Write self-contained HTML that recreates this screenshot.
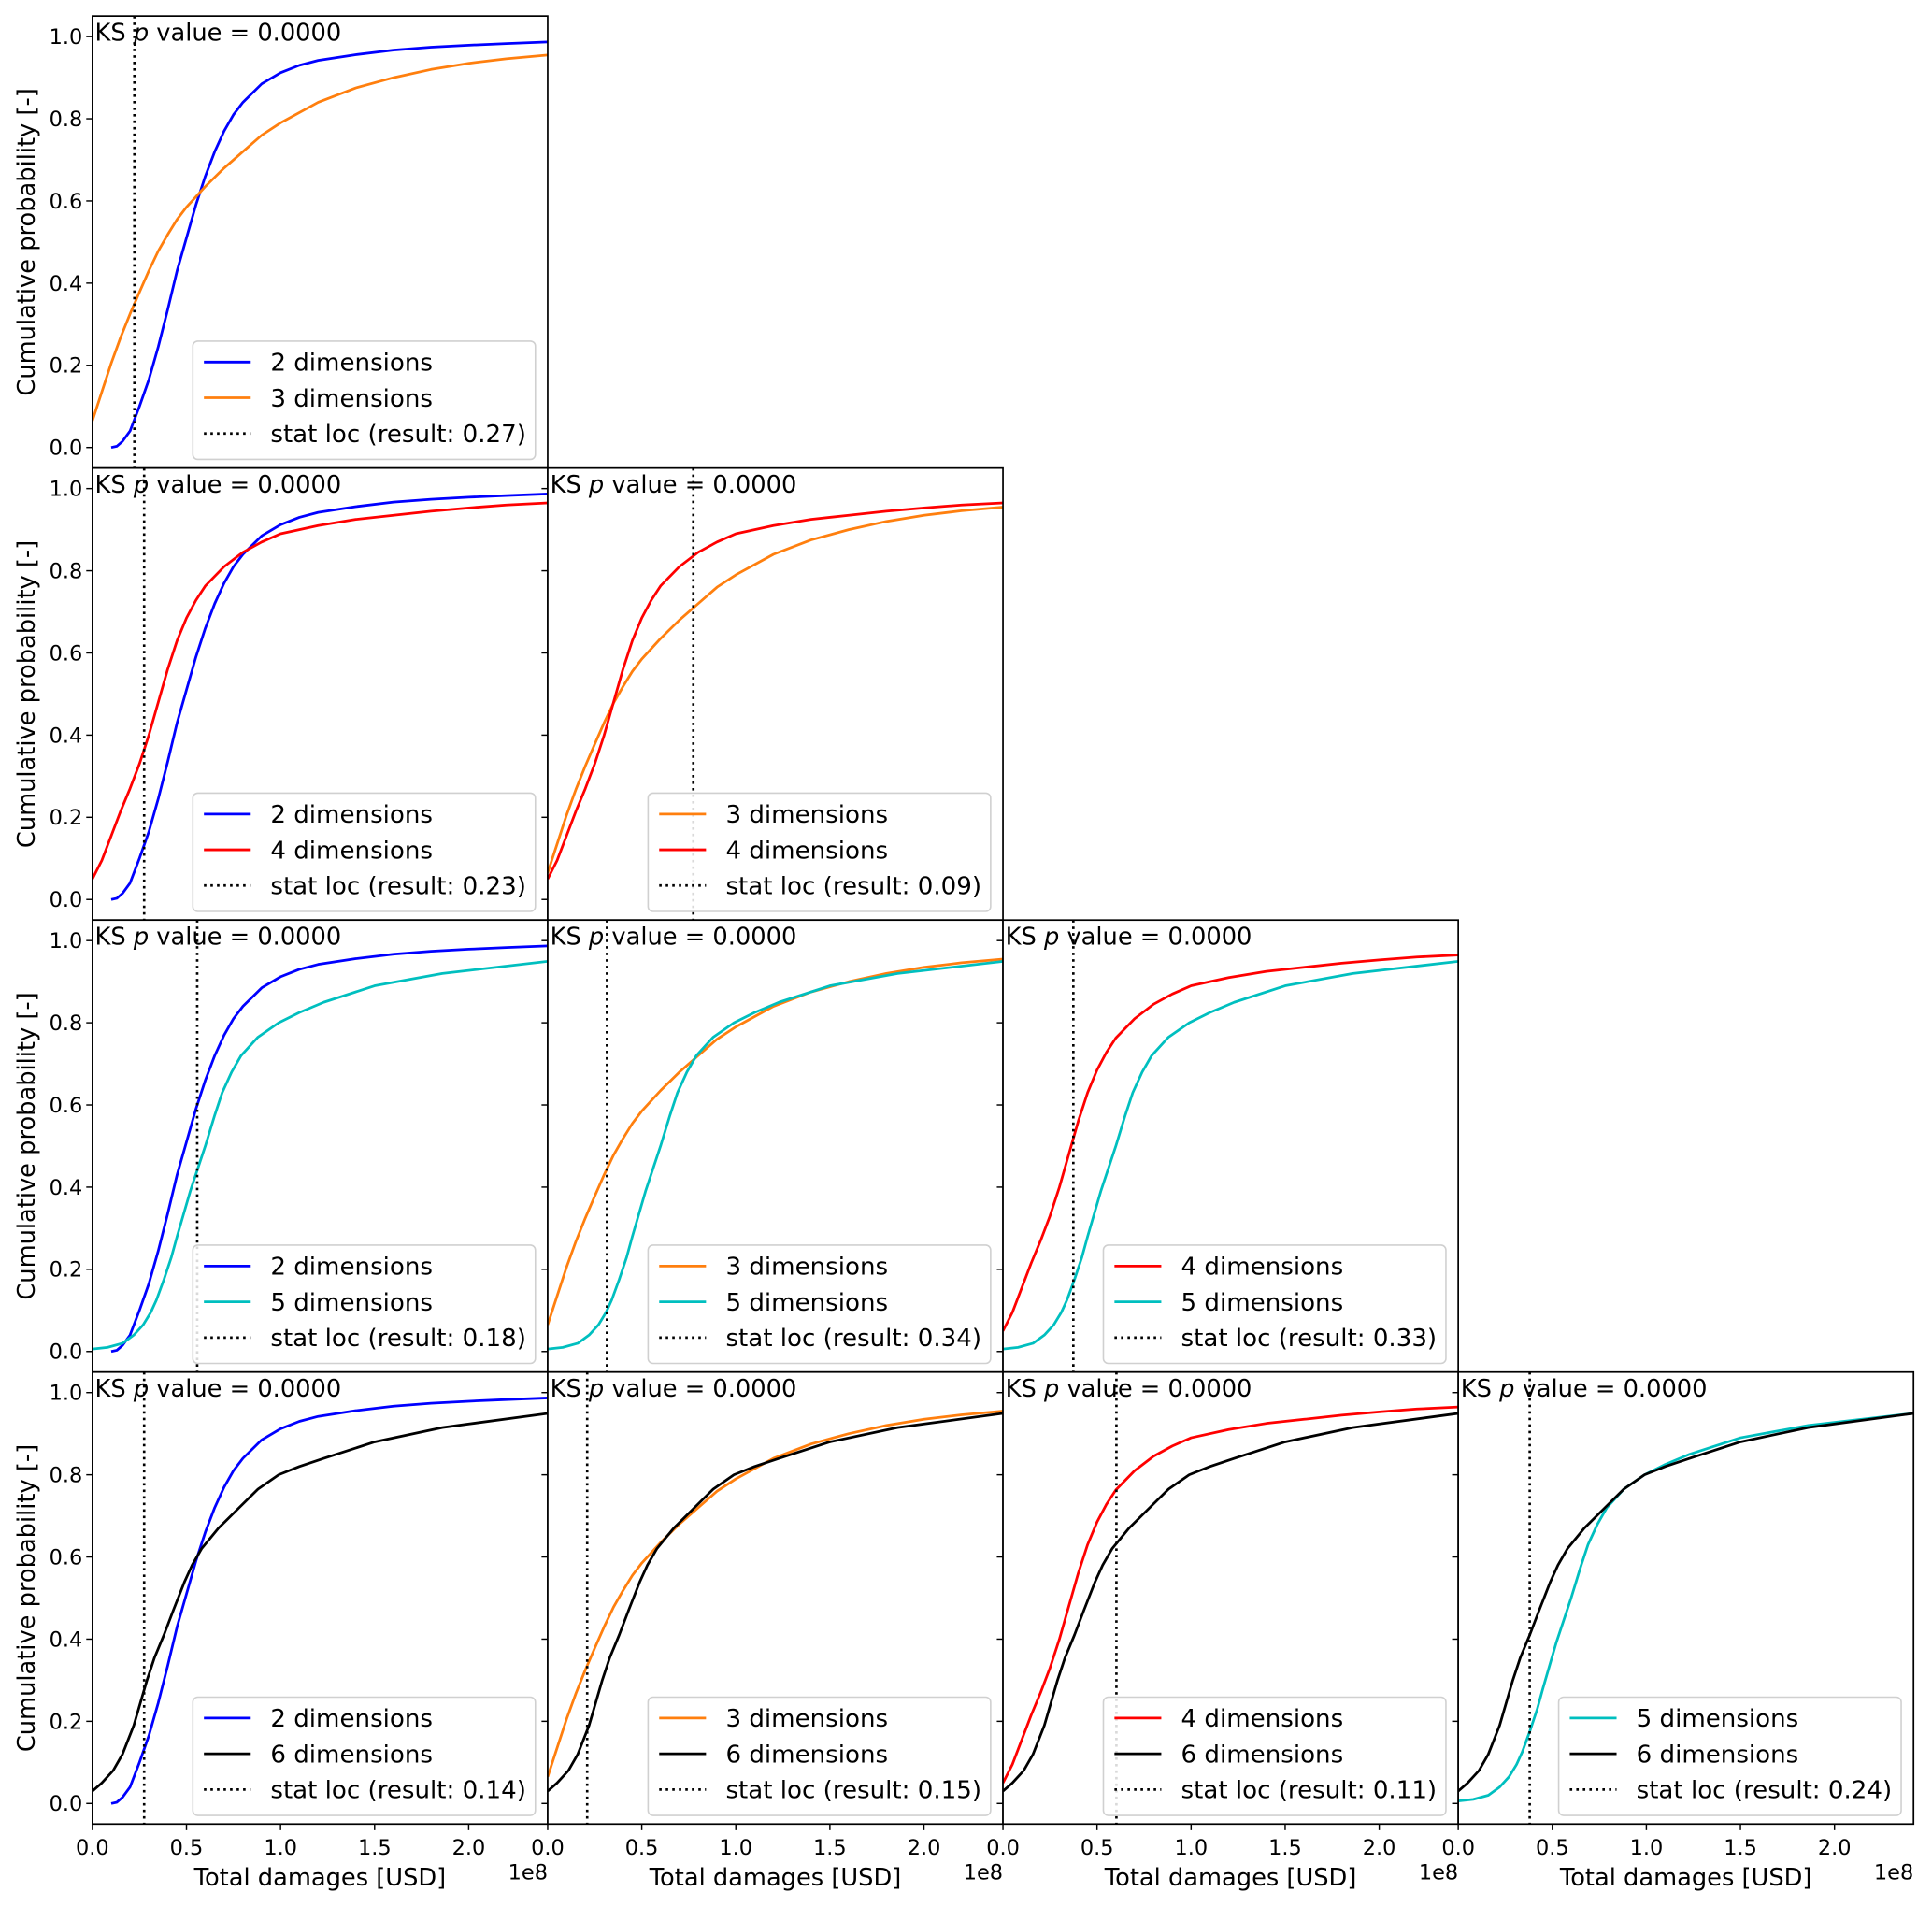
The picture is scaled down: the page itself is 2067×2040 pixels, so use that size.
<!DOCTYPE html>
<html><head><meta charset="utf-8"><style>
html,body{margin:0;padding:0;background:#fff}
svg{display:block}
text{font-family:"DejaVu Sans","Liberation Sans",sans-serif;fill:#000}
</style></head><body>
<svg id="fig" width="2067" height="2040" viewBox="0 0 1568 1547.5" xmlns="http://www.w3.org/2000/svg"></svg>
<script>
// ---- data (x in units of 1e8 USD, y cumulative probability) ----
const dimsX2 = [0.10,0.13,0.16,0.2,0.25,0.3,0.35,0.4,0.45,0.5,0.55,0.6,0.65,0.7,0.75,0.8,0.9,1.0,1.1,1.2,1.4,1.6,1.8,2.0,2.2,2.42];
const dimsY2 = [0,0.003,0.015,0.04,0.1,0.165,0.245,0.335,0.43,0.51,0.59,0.66,0.72,0.77,0.81,0.84,0.885,0.912,0.93,0.942,0.956,0.967,0.974,0.979,0.983,0.987];
const dimsX3 = [0,0.05,0.1,0.15,0.2,0.25,0.3,0.35,0.4,0.45,0.5,0.55,0.6,0.7,0.8,0.9,1.0,1.2,1.4,1.6,1.8,2.0,2.2,2.42];
const dimsY3 = [0.065,0.135,0.205,0.268,0.325,0.378,0.43,0.478,0.518,0.555,0.585,0.61,0.635,0.68,0.72,0.76,0.79,0.84,0.875,0.9,0.92,0.935,0.946,0.955];
const dimsX4 = [0,0.05,0.1,0.15,0.2,0.25,0.3,0.35,0.4,0.45,0.5,0.55,0.6,0.7,0.8,0.9,1.0,1.2,1.4,1.6,1.8,2.0,2.2,2.42];
const dimsY4 = [0.05,0.095,0.155,0.215,0.27,0.33,0.4,0.48,0.56,0.63,0.685,0.728,0.763,0.81,0.845,0.87,0.89,0.91,0.925,0.935,0.945,0.953,0.96,0.965];
const dimsX5 = [0,0.08,0.16,0.22,0.27,0.31,0.34,0.38,0.42,0.45,0.52,0.6,0.65,0.69,0.74,0.79,0.88,0.99,1.1,1.23,1.5,1.86,2.43];
const dimsY5 = [0.006,0.01,0.02,0.04,0.065,0.095,0.125,0.175,0.23,0.28,0.39,0.5,0.575,0.63,0.68,0.72,0.765,0.80,0.825,0.85,0.89,0.92,0.95];
const dimsX6 = [0,0.05,0.11,0.16,0.22,0.29,0.33,0.38,0.43,0.49,0.53,0.58,0.67,0.78,0.88,0.99,1.1,1.23,1.5,1.86,2.43];
const dimsY6 = [0.03,0.05,0.08,0.12,0.19,0.30,0.355,0.41,0.47,0.54,0.58,0.62,0.67,0.72,0.765,0.80,0.82,0.84,0.88,0.915,0.95];
const panelRows = [0,1,1,2,2,2,3,3,3,3];
const panelCols = [0,0,1,0,1,2,0,1,2,3];
const panelDimA = [2,2,3,2,3,4,2,3,4,5];
const panelDimB = [3,4,4,5,5,5,6,6,6,6];
const statLocs = [0.223,0.275,0.774,0.557,0.315,0.374,0.275,0.21,0.603,0.38];
const statResults = ["0.27","0.23","0.09","0.18","0.34","0.33","0.14","0.15","0.11","0.24"];
const yTicks = [0,0.2,0.4,0.6,0.8,1.0];
const yTickLabels = ["0.0","0.2","0.4","0.6","0.8","1.0"];
const xTicks = [0,0.5,1.0,1.5,2.0];
const xTickLabels = ["0.0","0.5","1.0","1.5","2.0"];

const series = {2:[dimsX2,dimsY2],3:[dimsX3,dimsY3],4:[dimsX4,dimsY4],5:[dimsX5,dimsY5],6:[dimsX6,dimsY6]};
const colors = {2:"#0000ff",3:"#ff7f0e",4:"#ff0000",5:"#00bfbf",6:"#000000"};

// ---- layout ----
const L0=75, PW=369.5, T0=13, PH=366.8, XMAX=2.42, YMIN=-0.05, YMAX=1.05;
const NS="http://www.w3.org/2000/svg";
const fig=document.getElementById('fig');
function mk(tag,attrs,parent){const e=document.createElementNS(NS,tag);for(const k in attrs)e.setAttribute(k,attrs[k]);(parent||fig).appendChild(e);return e;}

const defs=mk('defs',{});
for(let i=0;i<panelRows.length;i++){
  const r=panelRows[i], c=panelCols[i];
  const left=L0+c*PW, top=T0+r*PH;
  const sx=v=>left+v/XMAX*PW;
  const sy=v=>top+(YMAX-v)/(YMAX-YMIN)*PH;
  const cp=mk('clipPath',{id:'clip'+i},defs);
  mk('rect',{x:left,y:top,width:PW,height:PH},cp);
  const g=mk('g',{});
  
  
  mk('rect',{x:left,y:top,width:PW,height:PH,fill:'#fff'},g);
  const pg=mk('g',{'clip-path':'url(#clip'+i+')'},g);
  [panelDimA[i],panelDimB[i]].forEach(d=>{
    const [xs,ys]=series[d];
    const pts=xs.map((x,k)=>sx(x).toFixed(2)+','+sy(ys[k]).toFixed(2)).join(' ');
    const pl=mk('polyline',{points:pts,fill:'none',stroke:colors[d],'stroke-width':2.1,'stroke-linejoin':'round'},pg);
    
    
  });
  const vl=mk('line',{x1:sx(statLocs[i]),x2:sx(statLocs[i]),y1:top,y2:top+PH,stroke:'#000','stroke-width':2,'stroke-dasharray':'2,3.3'},pg);
  
  
  yTicks.forEach((v,k)=>{
    mk('line',{x1:left-5,x2:left,y1:sy(v),y2:sy(v),stroke:'#000','stroke-width':1.1},g);
    if(c===0){const t=mk('text',{x:left-8,y:sy(v)+6,'text-anchor':'end','font-size':17},g);t.textContent=yTickLabels[k];
      }
  });
  if(r===3){
    xTicks.forEach((v,k)=>{
      mk('line',{x1:sx(v),x2:sx(v),y1:top+PH,y2:top+PH+5,stroke:'#000','stroke-width':1.1},g);
      const t=mk('text',{x:sx(v),y:top+PH+25,'text-anchor':'middle','font-size':17},g);t.textContent=xTickLabels[k];
      
    });
    const off=mk('text',{x:left+PW,y:top+PH+45,'text-anchor':'end','font-size':17},g);off.textContent='1e8';
    
    const xl=mk('text',{x:left+PW/2,y:top+PH+50,'text-anchor':'middle','font-size':19.5},g);xl.textContent='Total damages [USD]';
    
  }
  if(c===0){
    const yl=mk('text',{x:0,y:0,'text-anchor':'middle','font-size':19.5,transform:'translate(28,'+(top+PH/2)+') rotate(-90)'},g);
    yl.textContent='Cumulative probability [-]';
    
  }
  mk('rect',{x:left,y:top,width:PW,height:PH,fill:'none',stroke:'#000','stroke-width':1.3},g);
  const ks=mk('text',{x:left+2,y:top+20,'font-size':19.5},g);
  
  ks.innerHTML='KS <tspan font-style="italic">p</tspan> value = 0.0000';
  const lw=278, lh=96, lx=left+PW-10-lw, ly=top+PH-7-lh;
  const lg=mk('g',{},g);
  
  mk('rect',{x:lx,y:ly,width:lw,height:lh,rx:4,fill:'#fff','fill-opacity':0.85,stroke:'#d0d0d0','stroke-width':1.2},lg);
  const labels=[panelDimA[i]+' dimensions',panelDimB[i]+' dimensions','stat loc (result: '+statResults[i]+')'];
  const cols=[colors[panelDimA[i]],colors[panelDimB[i]],'#000'];
  labels.forEach((lab,k)=>{
    const yy=ly+17+k*29;
    const h=mk('line',{x1:lx+9,x2:lx+47,y1:yy,y2:yy,stroke:cols[k],'stroke-width':2.1},lg);
    if(k===2)h.setAttribute('stroke-dasharray','2,3.3');
    const t=mk('text',{x:lx+63,y:yy+7,'font-size':19.8},lg);t.textContent=lab;
    
  });
}
</script>
</body></html>
